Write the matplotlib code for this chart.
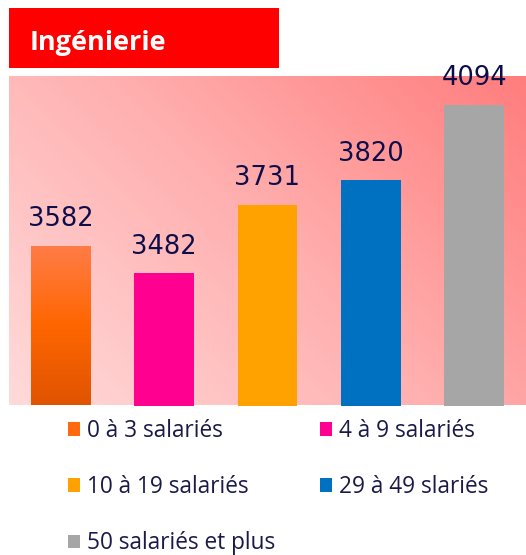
import numpy as np
import matplotlib.pyplot as plt
from matplotlib.patches import Rectangle
from matplotlib.colors import LinearSegmentedColormap

title = "Ingénierie"
categories = ["0 à 3 salariés", "4 à 9 salariés", "10 à 19 salariés",
              "29 à 49 slariés", "50 salariés et plus"]
values = [3582, 3482, 3731, 3820, 4094]
colors = ["#ff6a10", "#ff0090", "#ffa200", "#0070c0", "#a6a6a6"]

W, H = 526, 555
fig = plt.figure(figsize=(W / 100, H / 100), dpi=100)

# red title banner
fig.patches.append(Rectangle((9 / W, 1 - 68 / H), 270 / W, 60 / H,
                             transform=fig.transFigure, facecolor="#ff0000",
                             edgecolor="none"))
fig.text(30 / W, 1 - 50 / H, title, color="white", fontsize=19.5,
         fontweight="bold", family="Open Sans", va="baseline", ha="left")

ax = fig.add_axes([9 / W, 1 - 405.5 / H, 1 - 9 / W, (405.5 - 75.7) / H])
ymin, ymax = 3000, 4200
xmin, xmax = -0.5, 4.5
ax.set_xlim(xmin, xmax)
ax.set_ylim(ymin, ymax)
ax.axis("off")

# diagonal pink-to-red background
u = np.linspace(0, 1, 400)
v = np.linspace(0, 1, 300)
U, V = np.meshgrid(u, v)
t = (U * 517 + V * 330) / (517 + 330)
bg = LinearSegmentedColormap.from_list("bg", ["#ffdada", "#ffb0b0", "#ff7d7d"])
ax.imshow(bg(t), extent=(xmin, xmax, ymin, ymax), origin="lower",
          aspect="auto", zorder=0)

x = np.arange(len(values))
bars = ax.bar(x, values, width=0.58, color=colors, zorder=2)

# vertical orange gradient on the first bar
b0 = bars[0]
b0.set_facecolor("none")
grad = LinearSegmentedColormap.from_list("og", ["#e05400", "#ff6600", "#ff7c48"])
g = np.linspace(0, 1, 200).reshape(-1, 1)
im = ax.imshow(grad(g), extent=(b0.get_x(), b0.get_x() + b0.get_width(), ymin, values[0]),
               origin="lower", aspect="auto", zorder=2)
im.set_clip_path(b0)

for xi, val in zip(x, values):
    ax.annotate(f"{val}", (xi, val), xytext=(0, 14), textcoords="offset points",
                ha="center", va="baseline", fontsize=18.5, color="#0d0d4a",
                family="DejaVu Sans", zorder=3)

order = [0, 2, 4, 1, 3]
handles = [Rectangle((0, 0), 1, 1, facecolor=colors[i]) for i in order]
labels = [categories[i] for i in order]
fig.legend(handles, labels, ncol=2, frameon=False, loc="upper left",
           bbox_to_anchor=(68 / W, 1 - 419 / H),
           prop={"family": "Open Sans", "size": 16.3},
           labelcolor="#1a1a4a", handlelength=0.53, handleheight=0.53,
           handletextpad=0.3, labelspacing=1.42, columnspacing=2.0,
           borderpad=0, borderaxespad=0)

fig.savefig("out.png", dpi=100)
